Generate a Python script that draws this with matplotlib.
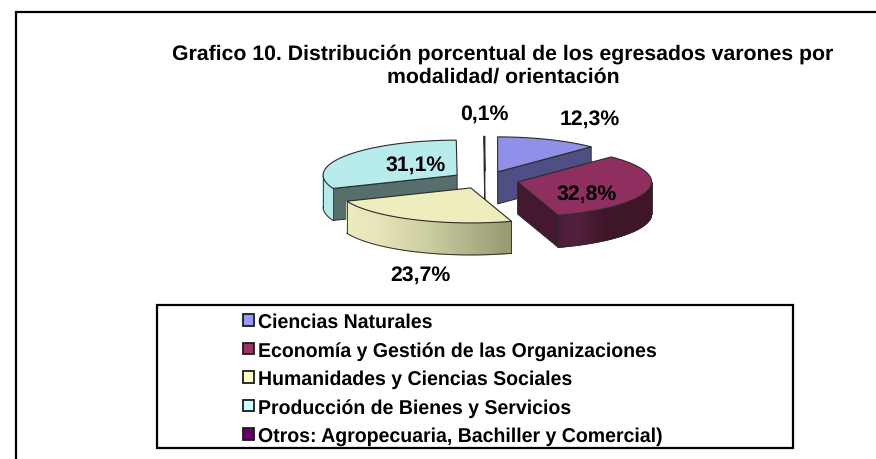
import matplotlib
matplotlib.use("Agg")
import matplotlib.pyplot as plt
from matplotlib.colors import to_rgb
from matplotlib.patches import Patch, Polygon, Rectangle
import numpy as np

plt.rcParams["font.family"] = ["Liberation Sans", "DejaVu Sans"]
plt.rcParams["text.hinting"] = "none"

title = "Grafico 10. Distribución porcentual de los egresados varones por\nmodalidad/ orientación"
categories = [
    "Ciencias Naturales",
    "Economía y Gestión de las Organizaciones",
    "Humanidades y Ciencias Sociales",
    "Producción de Bienes y Servicios",
    "Otros: Agropecuaria, Bachiller y Comercial)",
]
values = [12.3, 32.8, 23.7, 31.1, 0.1]
legend_colors = ["#9999ff", "#993366", "#ffffcc", "#ccffff", "#660066"]
top_colors = ["#9090e8", "#8f2f5f", "#ededbd", "#b8ecec", "#5c0a5c"]
face_colors = ["#4f4f85", "#44182f", "#96966f", "#566e6c", "#2a0a2a"]
# side wall colours, (angle, colour) going clockwise from the top of the pie
rim_stops = [
    [(0, "#4f4f85"), (360, "#4f4f85")],
    [(90, "#3f1528"), (140, "#3f1528"), (155, "#55203f"), (162, "#4d1c38")],
    [(162, "#96966f"), (200, "#cfcfa4"), (225, "#e6e6ba"), (247.3, "#ececbe")],
    [(247, "#b8e8e8"), (270, "#b8e8e8")],
    [(0, "#2a0a2a"), (360, "#2a0a2a")],
]
label_pos = [(590, 119), (587, 194), (420, 275), (416, 165), (484, 114)]

CX, CY = 485, 181
RX, RY = 134, 35
DEPTH = 32
EXPLODE = 0.25
EDGE = "#2b2b2b"


def rim_point(c, ang):
    a = np.radians(ang)
    return c[0] + RX * np.sin(a), c[1] - RY * np.cos(a)


def shade(stops, ang):
    xs = [s[0] for s in stops]
    cols = np.array([to_rgb(s[1]) for s in stops])
    return [np.interp(ang, xs, cols[:, i]) for i in range(3)]


def draw_wedge(ax, c, start, end, i, zorder):
    # radial faces first, then the outer wall, then the lid
    for ang, normal in ((start, start - 90), (end, end + 90)):
        if np.cos(np.radians(normal)) < 0:
            p = rim_point(c, ang)
            quad = [c, p, (p[0], p[1] + DEPTH), (c[0], c[1] + DEPTH)]
            ax.add_patch(Polygon(quad, fc=face_colors[i], ec=EDGE, lw=0.7, zorder=zorder))

    lo, hi = max(start, 90), min(end, 270)
    if lo < hi:
        angs = np.linspace(lo, hi, int(hi - lo) + 2)
        for a0, a1 in zip(angs[:-1], angs[1:]):
            p0, p1 = rim_point(c, a0), rim_point(c, a1)
            quad = [p0, p1, (p1[0], p1[1] + DEPTH), (p0[0], p0[1] + DEPTH)]
            col = shade(rim_stops[i], (a0 + a1) / 2)
            ax.add_patch(Polygon(quad, fc=col, ec=col, lw=0.8, zorder=zorder))
        low = [rim_point(c, a) for a in angs]
        low = [(x, y + DEPTH) for x, y in low]
        ax.plot(*zip(*low), color=EDGE, lw=0.7, zorder=zorder)
        for a in (lo, hi):
            x, y = rim_point(c, a)
            ax.plot([x, x], [y, y + DEPTH], color=EDGE, lw=0.6, zorder=zorder)

    angs = np.linspace(start, end, max(int(end - start) * 2, 2))
    lid = [c] + [rim_point(c, a) for a in angs]
    ax.add_patch(Polygon(lid, fc=top_colors[i], ec=EDGE, lw=0.8, zorder=zorder + 0.5))


fig = plt.figure(figsize=(8.76, 4.6), dpi=100)
ax = fig.add_axes([0, 0, 1, 1])
ax.set_xlim(0, 876)
ax.set_ylim(460, 0)
ax.axis("off")

# outer chart frame is cut by the image on the right and at the bottom
ax.plot([15.5, 15.5, 876], [460, 12.5, 12.5], color="black", lw=1.6, solid_joinstyle="miter")

ax.text(503, 65.5, title, ha="center", va="center", fontsize=15.35, fontweight="bold",
        linespacing=1.2)

bounds = np.cumsum([0] + values) / sum(values) * 360
centers = []
for i in range(len(values)):
    mid = np.radians((bounds[i] + bounds[i + 1]) / 2)
    centers.append((CX + EXPLODE * RX * np.sin(mid), CY - EXPLODE * RY * np.cos(mid)))

for z, i in enumerate(np.argsort([c[1] for c in centers], kind="stable")):
    draw_wedge(ax, centers[i], bounds[i], bounds[i + 1], i, 3 + z)

for v, pos in zip(values, label_pos):
    ax.text(pos[0], pos[1], f"{v:.1f}%".replace(".", ","), ha="center", va="center",
            fontsize=15.3, fontweight="bold", color="black", zorder=20)

ax.add_patch(Rectangle((156.5, 305.5), 636, 143.5, fc="white", ec="black", lw=1.6, zorder=2))
handles = [Patch(fc=col, ec="#1a1a1a", lw=1.3) for col in legend_colors]
ax.legend(handles, categories, loc="upper left", bbox_to_anchor=(235.5, 305.5),
          bbox_transform=ax.transData, frameon=False,
          prop={"weight": "bold", "size": 14.05}, handlelength=0.55, handleheight=0.55,
          handletextpad=0.22, labelspacing=0.5, borderpad=0.4, borderaxespad=0)

fig.savefig("out.png", dpi=100)
